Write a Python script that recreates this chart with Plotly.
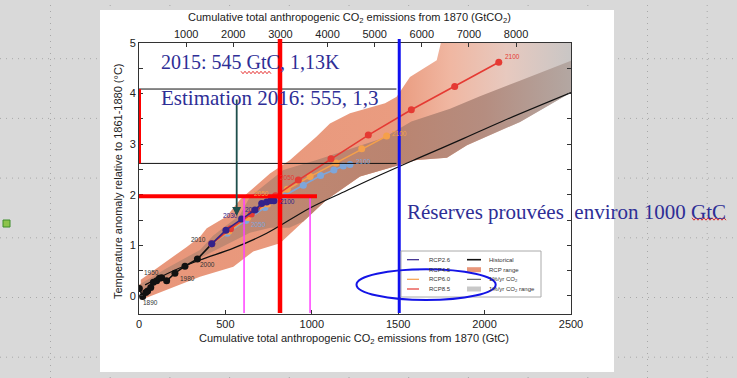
import plotly.graph_objects as go

# ---------------- data ----------------
hist_x = [2, 21, 39, 50, 68, 83, 102, 118, 131, 160, 208, 266, 338, 421]
hist_y = [0.15, -0.01, 0.07, 0.10, 0.17, 0.27, 0.30, 0.35, 0.36, 0.30, 0.45, 0.59, 0.73, 1.03]

onepct_x = [35, 200, 353, 550, 739, 995, 1200, 1395, 1600, 1857, 2100, 2500]
onepct_y = [0.22, 0.50, 0.71, 0.95, 1.24, 1.75, 2.08, 2.39, 2.70, 3.08, 3.45, 4.02]

rcp26_x = [421, 503, 594, 671, 710, 739, 762, 781]
rcp26_y = [1.03, 1.30, 1.52, 1.70, 1.83, 1.86, 1.88, 1.88]
rcp45_x = [421, 511, 619, 729, 840, 951, 1051, 1128, 1182, 1221]
rcp45_y = [1.03, 1.24, 1.49, 1.75, 1.98, 2.19, 2.38, 2.49, 2.57, 2.60]
rcp60_x = [421, 520, 630, 745, 858, 990, 1140, 1289, 1433]
rcp60_y = [1.03, 1.28, 1.55, 1.82, 2.11, 2.36, 2.63, 2.91, 3.16]
rcp85_x = [421, 530, 650, 790, 922, 1111, 1327, 1576, 1827, 2082]
rcp85_y = [1.03, 1.33, 1.62, 1.98, 2.29, 2.71, 3.18, 3.68, 4.14, 4.62]

band_upper_x = [10, 160, 276, 353, 392, 507, 584, 758, 874, 1028, 1105, 1221, 1424, 1491, 1568, 1723, 1761, 2500]
band_upper_y = [0.32, 0.68, 0.97, 1.17, 1.34, 1.57, 1.90, 2.42, 2.69, 3.15, 3.41, 3.61, 3.81, 3.94, 4.33, 4.66, 5.2, 5.2]
band_lower_x = [2500, 2494, 2205, 1898, 1782, 1607, 1412, 1279, 1086, 951, 816, 661, 546, 353, 160, 10]
band_lower_y = [4.02, 4.01, 3.44, 2.98, 2.73, 2.69, 2.49, 2.36, 1.90, 1.47, 1.04, 0.88, 0.58, 0.38, 0.12, -0.08]

dark_upper_x = [0, 160, 353, 428, 584, 642, 835, 1028, 1414, 1576, 1800, 1973, 2200, 2500]
dark_upper_y = [0.22, 0.55, 0.91, 1.19, 1.60, 1.96, 2.49, 2.69, 3.12, 3.45, 3.70, 3.95, 4.25, 4.65]
dark_lower_x = [2500, 2205, 1898, 1782, 1607, 1412, 1279, 1086, 951, 870, 760, 642, 500, 353, 200, 80, 0]
dark_lower_y = [4.02, 3.44, 2.98, 2.73, 2.69, 2.49, 2.36, 1.90, 1.47, 1.35, 1.35, 1.25, 1.00, 0.75, 0.45, 0.20, 0.10]

year_labels = ["1890", "1950", "1980", "2000", "2010"]
year_lab_x = [64, 75, 278, 399, 347]
year_lab_y = [-0.12, 0.47, 0.34, 0.63, 1.11]

rcp_labels = ["2030", "2050", "2100", "2050", "2100", "2050", "2100", "2050", "2100"]
rcp_lab_x = [527, 654, 862, 689, 1302, 706, 1510, 859, 2159]
rcp_lab_y = [1.60, 1.70, 1.86, 1.42, 2.65, 2.02, 3.22, 2.34, 4.74]
rcp_lab_series = [0, 0, 0, 1, 1, 2, 2, 3, 3]

gtco2_ticks = [1000, 2000, 3000, 4000, 5000, 6000, 7000, 8000]
gtc_ticks = [0, 500, 1000, 1500, 2000, 2500]
temp_ticks = [0, 1, 2, 3, 4, 5]

mark_2015_gtc = 816        # thick red vertical
reserves_gtc = 1506        # blue vertical
pink_x = [608, 990]
red_h_y = 1.97
black_h_y = [4.09, 2.62]

C_RCP = ["#33228A", "#7EA6DA", "#F5A04A", "#E53A33"]
NAMES = ["RCP2.6", "RCP4.5", "RCP6.0", "RCP8.5"]

# ---------------- geometry helpers ----------------
W, H = 737, 378
L, R, T, B = 139, 571, 43, 314
def P(px, py):
    return (px - L) / (R - L), (B - py) / (B - T)

fig = go.Figure()

# RCP range band
fig.add_trace(go.Scatter(
    x=band_upper_x + band_lower_x, y=band_upper_y + band_lower_y,
    mode="lines", line=dict(width=0), fill="toself",
    fillgradient=dict(type="horizontal",
                      colorscale=[[0, "#E8967A"], [0.6, "#EA9C80"], [0.72, "#F0B7A2"],
                                  [0.85, "#E7C9BF"], [1, "#C9C6C5"]]),
    hoverinfo="skip", showlegend=False))
# 1%/yr range overlap (darker)
fig.add_trace(go.Scatter(
    x=dark_upper_x + dark_lower_x, y=dark_upper_y + dark_lower_y,
    mode="lines", line=dict(width=0), fill="toself",
    fillgradient=dict(type="horizontal",
                      colorscale=[[0, "#C48A73"], [0.6, "#BA8470"], [0.8, "#B58D80"], [1, "#B3A7A2"]]),
    hoverinfo="skip", showlegend=False))

# 1%/yr CO2 line
fig.add_trace(go.Scatter(x=onepct_x, y=onepct_y, mode="lines",
                         line=dict(color="#111111", width=1.2, shape="spline"),
                         hoverinfo="skip", showlegend=False))
# historical
fig.add_trace(go.Scatter(x=hist_x, y=hist_y, mode="lines+markers",
                         line=dict(color="#111111", width=1.6),
                         marker=dict(color="#111111", size=7),
                         hoverinfo="skip", showlegend=False))
# RCPs
for xs, ys, c in [(rcp45_x, rcp45_y, C_RCP[1]), (rcp60_x, rcp60_y, C_RCP[2]),
                  (rcp85_x, rcp85_y, C_RCP[3]), (rcp26_x, rcp26_y, C_RCP[0])]:
    fig.add_trace(go.Scatter(x=xs, y=ys, mode="lines+markers",
                             line=dict(color=c, width=1.6),
                             marker=dict(color=c, size=7),
                             hoverinfo="skip", showlegend=False))

# dummy traces for top / right axes
fig.add_trace(go.Scatter(x=[0], y=[0], xaxis="x2", mode="markers",
                         marker=dict(opacity=0), hoverinfo="skip", showlegend=False))
fig.add_trace(go.Scatter(x=[0], y=[0], yaxis="y2", mode="markers", marker=dict(opacity=0),
                         hoverinfo="skip", showlegend=False))

shapes = []
ann = []

# slide background grid (dotted)
for k in range(13):
    gx = 50.5 + 59.7 * k
    x0, _ = P(gx, 0)
    shapes.append(dict(type="line", xref="paper", yref="paper", x0=x0, x1=x0,
                       y0=P(0, H)[1], y1=P(0, 0)[1], layer="below",
                       line=dict(color="#A8A8A8", width=1, dash="1px,5px")))
for k in range(7):
    gy = -1 + 59.7 * k
    _, y0 = P(0, gy)
    shapes.append(dict(type="line", xref="paper", yref="paper", y0=y0, y1=y0,
                       x0=P(0, 0)[0], x1=P(W, 0)[0], layer="below",
                       line=dict(color="#A8A8A8", width=1, dash="1px,5px")))
# white picture
a = P(100, 10); b = P(614, 372)
shapes.append(dict(type="rect", xref="paper", yref="paper", x0=a[0], y0=b[1], x1=b[0], y1=a[1],
                   fillcolor="white", line=dict(width=0), layer="below"))
# green square
a = P(3, 220); b = P(10, 227)
shapes.append(dict(type="rect", xref="paper", yref="paper", x0=a[0], y0=b[1], x1=b[0], y1=a[1],
                   fillcolor="#8CC34A", line=dict(color="#3E8E2A", width=1)))

# thin black horizontals
for yv in black_h_y:
    shapes.append(dict(type="line", xref="x", yref="y", x0=0, x1=1490, y0=yv, y1=yv,
                       line=dict(color="#111111", width=1)))
# left red vertical
shapes.append(dict(type="line", xref="x", yref="y", x0=3, x1=3, y0=black_h_y[1], y1=black_h_y[0],
                   line=dict(color="#FF0000", width=3)))
# pink verticals
for xv in pink_x:
    shapes.append(dict(type="line", xref="x", yref="paper", x0=xv, x1=xv,
                       y0=P(0, 313)[1], y1=P(0, 197)[1], line=dict(color="#FF40FF", width=1.5)))
# thick red horizontal
shapes.append(dict(type="line", xref="x", yref="y", x0=-12, x1=1030, y0=red_h_y, y1=red_h_y,
                   line=dict(color="#FF0000", width=4)))
# thick red vertical
shapes.append(dict(type="line", xref="x", yref="paper", x0=mark_2015_gtc, x1=mark_2015_gtc,
                   y0=P(0, 313)[1], y1=P(0, 39)[1], line=dict(color="#FF0000", width=4.5)))
# blue vertical
shapes.append(dict(type="line", xref="x", yref="paper", x0=reserves_gtc, x1=reserves_gtc,
                   y0=P(0, 313)[1], y1=P(0, 39)[1], line=dict(color="#1010F0", width=3)))

# legend box
a = P(401, 251); b = P(541, 297)
shapes.append(dict(type="rect", xref="paper", yref="paper", x0=a[0], y0=b[1], x1=b[0], y1=a[1],
                   fillcolor="white", line=dict(color="#AAAAAA", width=1)))
rows = [259.7, 269.7, 279.3, 289]
for i, (nm, c) in enumerate(zip(NAMES, C_RCP)):
    y = P(0, rows[i])[1]
    shapes.append(dict(type="line", xref="paper", yref="paper", x0=P(407, 0)[0], x1=P(419, 0)[0],
                       y0=y, y1=y, line=dict(color=c, width=1.2)))
    ann.append(dict(xref="paper", yref="paper", x=P(427, 0)[0], y=y, text=nm, showarrow=False,
                    xanchor="left", yanchor="middle", font=dict(size=6, color="#333", family="Liberation Sans")))
col2 = ["Historical", "RCP range", "1%/yr CO<sub>2</sub>", "1%/yr CO<sub>2</sub> range"]
for i, nm in enumerate(col2):
    y = P(0, rows[i])[1]
    if i == 0 or i == 2:
        shapes.append(dict(type="line", xref="paper", yref="paper", x0=P(467, 0)[0], x1=P(481, 0)[0],
                           y0=y, y1=y, line=dict(color="#111", width=1.6 if i == 0 else 0.8)))
    else:
        c = "#E8967A" if i == 1 else "#C8C8C8"
        shapes.append(dict(type="rect", xref="paper", yref="paper", x0=P(467, 0)[0], x1=P(481, 0)[0],
                           y0=P(0, rows[i] + 2.5)[1], y1=P(0, rows[i] - 2.5)[1],
                           fillcolor=c, line=dict(width=0)))
    ann.append(dict(xref="paper", yref="paper", x=P(487, 0)[0], y=y, text=nm, showarrow=False,
                    xanchor="left", yanchor="middle", font=dict(size=6, color="#333", family="Liberation Sans")))

# blue ellipse
a = P(356.5, 269.3); b = P(495.7, 300)
shapes.append(dict(type="circle", xref="paper", yref="paper", x0=a[0], y0=b[1], x1=b[0], y1=a[1],
                   line=dict(color="#1414E6", width=2)))

# red wavy spell-check underlines
def wavy(x0, x1, y):
    pts = []
    px = x0; up = True
    while px <= x1:
        pts.append(P(px, y - 1.2 if up else y + 1.2))
        px += 2; up = not up
    return "M " + " L ".join(f"{u:.5f},{v:.5f}" for u, v in pts)
for (x0, x1, y) in [(241, 272, 72.5), (692, 727, 219)]:
    shapes.append(dict(type="path", xref="paper", yref="paper", path=wavy(x0, x1, y),
                       line=dict(color="#E00000", width=0.8)))

# year labels
for t, x, y in zip(year_labels, year_lab_x, year_lab_y):
    ann.append(dict(x=x, y=y, text=t, showarrow=False, font=dict(size=6.5, color="#333", family="Liberation Sans")))
for t, x, y, s in zip(rcp_labels, rcp_lab_x, rcp_lab_y, rcp_lab_series):
    ann.append(dict(x=x, y=y, text=t, showarrow=False, font=dict(size=6.5, color=C_RCP[s], family="Liberation Sans")))

# arrow
tip = P(236.7, 216)
ann.append(dict(xref="paper", yref="paper", x=tip[0], y=tip[1], ax=0, ay=-118, text="",
                showarrow=True, arrowhead=2, arrowsize=1, arrowwidth=1.8, arrowcolor="#1F4F4C"))

# axis titles
SANS = "Liberation Sans"
u, v = P(354, 339)
ann.append(dict(xref="paper", yref="paper", x=u, y=v, showarrow=False, xanchor="center", yanchor="middle",
                text="Cumulative total anthropogenic CO<sub>2</sub> emissions from 1870 (GtC)",
                font=dict(size=11, color="#222", family=SANS)))
u, v = P(349, 18)
ann.append(dict(xref="paper", yref="paper", x=u, y=v, showarrow=False, xanchor="center", yanchor="middle",
                text="Cumulative total anthropogenic CO<sub>2</sub> emissions from 1870 (GtCO<sub>2</sub>)",
                font=dict(size=11, color="#222", family=SANS)))
u, v = P(118, 181)
ann.append(dict(xref="paper", yref="paper", x=u, y=v, showarrow=False, xanchor="center", yanchor="middle",
                textangle=-90, text="Temperature anomaly relative to 1861-1880 (°C)",
                font=dict(size=11, color="#222", family=SANS)))

# slide text
SER = "Liberation Serif"
TC = "#2E2E96"
for txt, px, py, fs in [("2015: 545 GtC, 1,13K", 159, 62, 20), ("Estimation 2016: 555, 1,3", 159, 98, 21),
                        ("Réserves prouvées  environ 1000 GtC", 405, 212, 21)]:
    u, v = P(px, py)
    ann.append(dict(xref="paper", yref="paper", x=u, y=v, text=txt, showarrow=False,
                    xanchor="left", yanchor="middle", font=dict(size=fs, color=TC, family=SER)))

AX = dict(showline=True, linecolor="#333", linewidth=1, mirror=False, ticks="inside",
          ticklen=4, tickcolor="#333", showgrid=False, zeroline=False, automargin=False,
          tickfont=dict(size=11, color="#222", family=SANS))

fig.update_layout(
    width=W, height=H, autosize=False,
    margin=dict(l=L, r=W - R, t=T, b=H - B, pad=0),
    paper_bgcolor="#D9D9D9", plot_bgcolor="white",
    showlegend=False,
    xaxis=dict(range=[0, 2500], tickvals=gtc_ticks, **AX),
    xaxis2=dict(range=[0, 2500 * 44 / 12], tickvals=gtco2_ticks, overlaying="x", side="top", **AX),
    yaxis=dict(range=[-0.356, 5], tickvals=temp_ticks, **AX,
               minor=dict(dtick=0.5, ticks="inside", ticklen=4, tickcolor="#333")),
    yaxis2=dict(range=[-0.356, 5], overlaying="y", side="right", showline=True, linecolor="#333",
                ticks="inside", ticklen=4, tickcolor="#333", dtick=0.5, showticklabels=False,
                showgrid=False, zeroline=False, automargin=False),
    shapes=shapes, annotations=ann,
)

fig.write_html("out.html", config={"displayModeBar": False},
               post_script="document.body.style.margin='0';document.body.style.overflow='hidden';"
                           "document.body.style.background='#D9D9D9';")
